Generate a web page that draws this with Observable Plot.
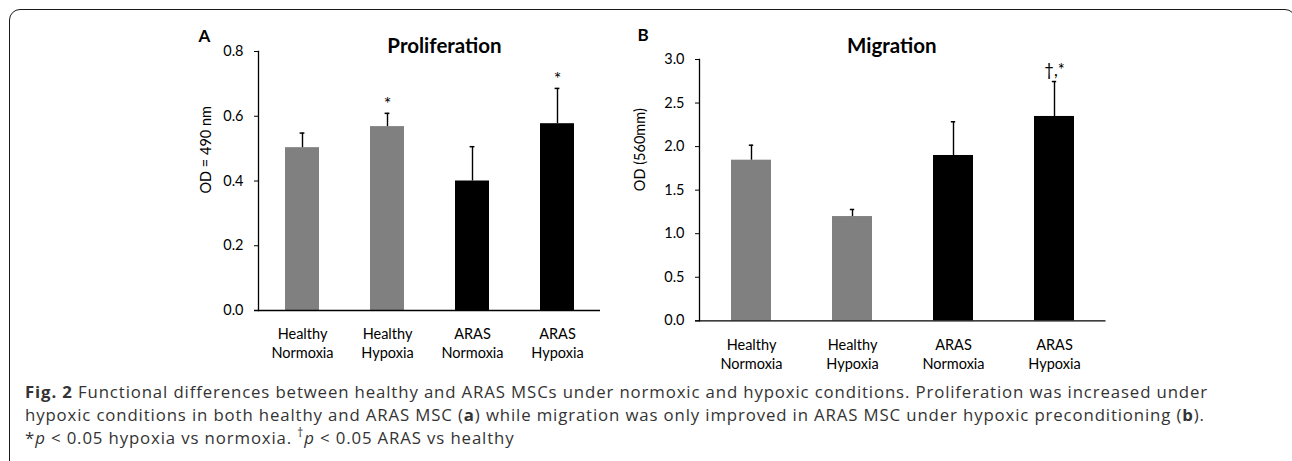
<!DOCTYPE html>
<html><head><meta charset="utf-8">
<script src="https://cdn.jsdelivr.net/npm/d3@7"></script>
<script src="https://cdn.jsdelivr.net/npm/@observablehq/plot@0.6"></script>
<style>
html,body{margin:0;padding:0;overflow:hidden;background:#fff;width:1292px;height:461px;}
#frame{position:absolute;left:9px;top:9px;width:1287px;height:700px;box-sizing:border-box;border:1.6px solid #1a1a1a;border-radius:11px;}
.panel{position:absolute;top:0;}
#caption{position:absolute;left:25px;top:379.5px;font-family:"Open Sans";font-size:16.8px;line-height:23px;color:#333;white-space:nowrap;}
#caption .sup{font-size:0.7em;position:relative;top:-0.55em;}
</style></head><body>
<div id="frame"></div>
<div id="pa" class="panel" style="left:150px"></div>
<div id="pb" class="panel" style="left:620px"></div>
<div id="caption"><span id="l1"><b>Fig. 2</b> Functional differences between healthy and ARAS MSCs under normoxic and hypoxic conditions. Proliferation was increased under</span><br>hypoxic conditions in both healthy and ARAS MSC (<b>a</b>) while migration was only improved in ARAS MSC under hypoxic preconditioning (<b>b</b>).<br>*<i>p</i> &lt; 0.05 hypoxia vs normoxia. <span class="sup">†</span><i>p</i> &lt; 0.05 ARAS vs healthy</div>
<script>
// ---- data ----
const categories = ["Healthy Normoxia", "Healthy Hypoxia", "ARAS Normoxia", "ARAS Hypoxia"];
const xLabels = ["Healthy\nNormoxia", "Healthy\nHypoxia", "ARAS\nNormoxia", "ARAS\nHypoxia"];
const barColors = ["#808080", "#808080", "#000000", "#000000"];

const prolifValues = [0.503, 0.568, 0.400, 0.577];
const prolifErrors = [0.045, 0.041, 0.106, 0.109];
const prolifSig = ["", "*", "", "*"];
const prolifTicks = [0, 0.2, 0.4, 0.6, 0.8];

const migrValues = [1.844, 1.197, 1.898, 2.346];
const migrErrors = [0.172, 0.081, 0.387, 0.401];
const migrSig = ["", "", "", "†,*"];
const migrTicks = [0, 0.5, 1.0, 1.5, 2.0, 2.5, 3.0];

function panel(o) {
  const rows = categories.map((c, i) => ({
    cat: c, v: o.values[i], top: o.values[i] + o.errors[i], sig: o.sig[i], color: barColors[i]
  }));
  const step = (o.width - o.ml - o.mr) / categories.length;
  const bw = step * 0.4;
  const inset = (bw - 5) / 2;
  return Plot.plot({
    width: o.width, height: o.height,
    marginLeft: o.ml, marginRight: o.mr, marginTop: o.mt, marginBottom: o.mb,
    style: {fontFamily: "Lato", fontSize: "14.5px", color: "#000", background: "none", overflow: "visible"},
    x: {domain: categories, paddingInner: 0.6, paddingOuter: 0.3, axis: null, label: null},
    y: {domain: [0, o.yTicks[o.yTicks.length - 1]], axis: null, label: null},
    color: {type: "identity"},
    marks: [
      Plot.barY(rows, {x: "cat", y: "v", fill: "color"}),
      Plot.ruleX(rows, {x: "cat", y1: "v", y2: "top", stroke: "#000", strokeWidth: 1.4}),
      Plot.tickY(rows, {x: "cat", y: "top", stroke: "#000", strokeWidth: 1.5, insetLeft: inset, insetRight: inset}),
      Plot.text(rows.filter(d => d.sig), {x: "cat", y: "top", text: "sig", dy: o.sigDy, lineAnchor: "middle", fontSize: o.sigSize}),
      Plot.ruleY([0], {stroke: "#000", strokeWidth: 1.3, insetLeft: -4}),
      Plot.frame({anchor: "left", stroke: "#000", strokeWidth: 1.3}),
      Plot.axisY({ticks: o.yTicks, tickSize: 4, tickPadding: 11, tickFormat: d3.format(".1f"), label: null, fontSize: 14.5}),
      Plot.axisX({tickSize: 0, tickPadding: o.xPad, tickFormat: d => xLabels[categories.indexOf(d)], lineHeight: 1.33, label: null, fontSize: 14.5}),
      Plot.text([o.title], {frameAnchor: "top", text: d => d, dx: o.titleDx, dy: o.titleDy, lineAnchor: "bottom", fontSize: 20.5, fontWeight: "bold"}),
      Plot.text([o.letter], {frameAnchor: "top-left", text: d => d, dx: o.letterDx, dy: o.letterDy, lineAnchor: "bottom", textAnchor: "start", fontSize: 17, fontWeight: "bold"}),
      Plot.text([o.yLabel], {frameAnchor: "left", text: d => d, rotate: -90, dx: o.ylDx, dy: o.ylDy, lineAnchor: "middle", fontSize: 14.5})
    ]
  });
}

document.getElementById("pa").append(panel({
  values: prolifValues, errors: prolifErrors, sig: prolifSig, yTicks: prolifTicks,
  title: "Proliferation", letter: "A", yLabel: "OD = 490 nm",
  width: 470, height: 375, ml: 108, mr: 20, mt: 51, mb: 65,
  xPad: 14.5, sigDy: -9.5, sigSize: 18, titleDx: 15, titleDy: 1, letterDx: -60, letterDy: -10,
  ylDx: -52.5, ylDy: 12.5
}));

document.getElementById("pb").append(panel({
  values: migrValues, errors: migrErrors, sig: migrSig, yTicks: migrTicks,
  title: "Migration", letter: "B", yLabel: "OD (560mm)",
  width: 510, height: 375, ml: 79, mr: 24.5, mt: 59, mb: 54.7,
  xPad: 15.5, sigDy: -11, sigSize: 16.5, titleDx: -11, titleDy: -7, letterDx: -62, letterDy: -18.3,
  ylDx: -59.5, ylDy: 1
}));

// fit caption tracking so the first line spans the same width as the original
const cap = document.getElementById("caption");
const l1 = document.getElementById("l1");
const w = l1.getBoundingClientRect().width;
const n = l1.textContent.length;
cap.style.letterSpacing = ((1183 - w) / n) + "px";
</script>
</body></html>
